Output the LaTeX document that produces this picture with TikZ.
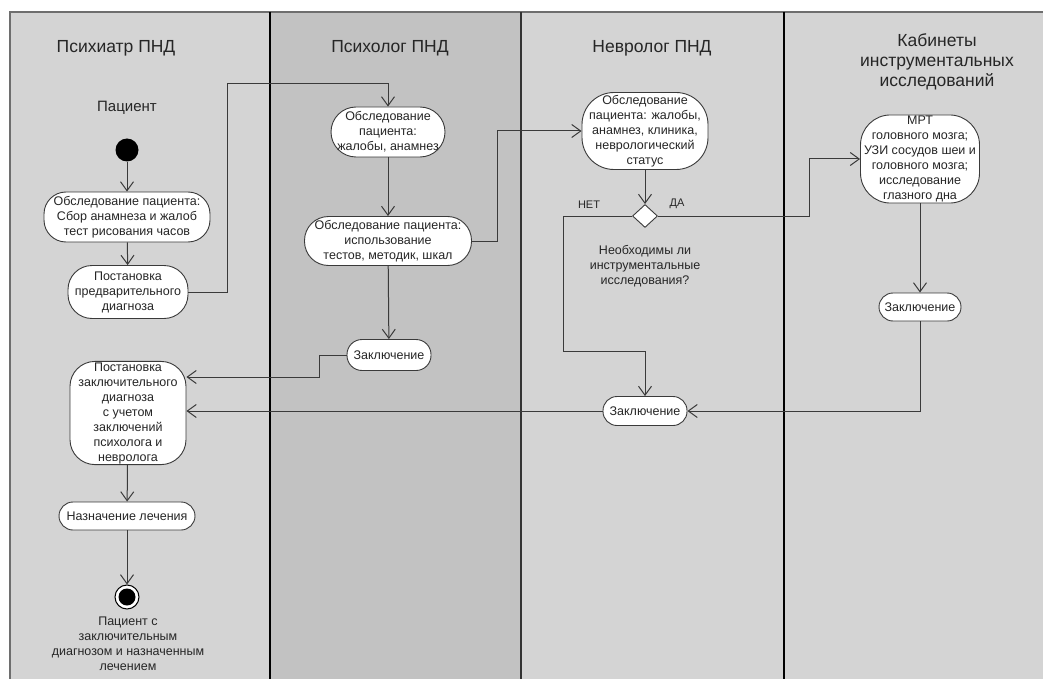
\documentclass[tikz,border=0pt]{standalone}
\usepackage{fontspec}
\setmainfont{Liberation Sans}
\usetikzlibrary{arrows.meta, positioning, shapes.geometric}
\definecolor{lanegray}{HTML}{D4D4D4}
\definecolor{lanedark}{HTML}{C2C2C2}
\definecolor{framegray}{HTML}{6E6E6E}
\definecolor{linegray}{HTML}{3A3A3A}
\newcommand{\acttext}{\fontsize{12.5}{15}\selectfont}
\newcommand{\lanetext}{\fontsize{17.5}{20}\selectfont}

\begin{document}
\begin{tikzpicture}[
  x=1pt, y=-1pt,
  act/.style={rectangle, draw=linegray, fill=white, line width=0.9pt, align=center, font=\acttext, text=black!85, inner sep=1pt},
  lanetitle/.style={align=center, font=\lanetext, text=black!85},
  plain/.style={align=center, font=\acttext, text=black!85, inner sep=0pt},
  flow/.style={-{Straight Barb[length=9pt, width=13pt]}, draw=linegray, line width=1pt},
]
\useasboundingbox (0,0) rectangle (1043,679);
\fill[white] (0,0) rectangle (1043,679);

%% Lanes
\fill[lanegray] (10,12) rectangle (270,679);
\fill[lanedark] (270,12) rectangle (521,679);
\fill[lanegray] (521,12) rectangle (784,679);
\fill[lanegray] (784,12) rectangle (1043,679);
\draw[framegray, line width=2pt] (10,679) -- (10,12) -- (1043,12);
\draw[black, line width=1.3pt] (270,12) -- (270,679);
\draw[black!80, line width=2pt] (521,12) -- (521,679);
\draw[black, line width=1.3pt] (784,12) -- (784,679);

\node[lanetitle] (psychiatrist) at (116,48) {Психиатр ПНД};
\node[lanetitle] (psychologist) at (390,48) {Психолог ПНД};
\node[lanetitle] (neurologist) at (652,48) {Невролог ПНД};
\node[lanetitle] (instrlane) at (937,62) {Кабинеты\\инструментальных\\исследований};

%% Psychiatrist
\node[plain, font=\fontsize{15}{18}\selectfont] (patient) at (127,108) {Пациент};
\node[circle, fill=black, minimum size=23pt, inner sep=0pt] (start) at (127,150) {};
\node[act, minimum width=166pt, minimum height=50pt, rounded corners=22pt] (exam) at (127,217)
  {Обследование пациента:\\Сбор анамнеза и жалоб\\тест рисования часов};
\node[act, minimum width=120pt, minimum height=53pt, rounded corners=24pt] (prediag) at (128,292)
  {Постановка\\предварительного\\диагноза};
\node[act, minimum width=116pt, minimum height=100pt, rounded corners=25pt] (finaldiag) at (128,413)
  {Постановка\\заключительного\\диагноза\\с учетом\\заключений\\психолога и\\невролога};
\node[act, minimum width=136pt, minimum height=28pt, rounded corners=14pt] (treat) at (127,516)
  {Назначение лечения};
\node[circle, draw=black, fill=white, line width=1pt, minimum size=24pt, inner sep=0pt,
  path picture={\fill[black] (path picture bounding box.center) circle (8.5pt);}] (finish) at (127,597) {};
\node[plain] (result) at (128,644) {Пациент с\\заключительным\\диагнозом и назначенным\\лечением};

%% Psychologist
\node[act, minimum width=114pt, minimum height=50pt, rounded corners=25pt] (psyexam) at (388,132)
  {Обследование\\пациента:\\жалобы, анамнез};
\node[act, minimum width=167pt, minimum height=49pt, rounded corners=24pt] (psytest) at (388,241)
  {Обследование пациента:\\использование\\тестов, методик, шкал};
\node[act, minimum width=84pt, minimum height=31pt, rounded corners=15pt] (psyconc) at (389,355)
  {Заключение};

%% Neurologist
\node[act, minimum width=126pt, minimum height=77pt, rounded corners=32pt] (neuexam) at (645,131)
  {Обследование\\пациента: жалобы,\\анамнез, клиника,\\неврологический\\статус};
\node[diamond, draw=linegray, fill=white, line width=0.9pt, aspect=1.1, minimum width=25pt, minimum height=23pt, inner sep=0pt] (dec) at (645,216) {};
\node[plain, below=17pt of dec] (question) {Необходимы ли\\инструментальные\\исследования?};
\node[plain, font=\fontsize{11}{13}\selectfont] (no) at (589,205) {НЕТ};
\node[plain, font=\fontsize{11}{13}\selectfont] (yes) at (677,204) {ДА};
\node[act, minimum width=84pt, minimum height=29pt, rounded corners=14pt] (neuconc) at (645,411)
  {Заключение};

%% Instrumental
\node[act, minimum width=119pt, minimum height=88pt, rounded corners=30pt] (instr) at (920,159)
  {МРТ\\головного мозга;\\УЗИ сосудов шеи и\\головного мозга;\\исследование\\глазного дна};
\node[act, minimum width=82pt, minimum height=28pt, rounded corners=14pt] (instrconc) at (920,307)
  {Заключение};

%% Arrows
\draw[flow] (start) -- (exam);
\draw[flow] (exam) -- (prediag);
\draw[flow] (prediag.east) -- ++(39,0) -- ++(0,-208) -| (psyexam.north);
\draw[flow] (psyexam) -- (psytest);
\draw[flow] (psytest) -- (psyconc);
\draw[flow] (psytest.east) -- ++(26,0) |- (neuexam.west);
\draw[flow] (neuexam) -- (dec);
\draw[flow] (dec.west) -- ++(-69,0) -- ++(0,135) -| (neuconc.north);
\draw[flow] (dec.east) -- ++(152,0) |- (instr.west);
\draw[flow] (instr) -- (instrconc);
\draw[flow] (instrconc.south) |- (neuconc.east);
\draw[flow] (neuconc.west) -- (neuconc.west -| finaldiag.east);
\draw[flow] (psyconc.west) -- ++(-27,0) -- ++(0,22) coordinate (bend) -- (bend -| finaldiag.east);
\draw[flow] (finaldiag) -- (treat);
\draw[flow] (treat) -- (finish);

\end{tikzpicture}
\end{document}
